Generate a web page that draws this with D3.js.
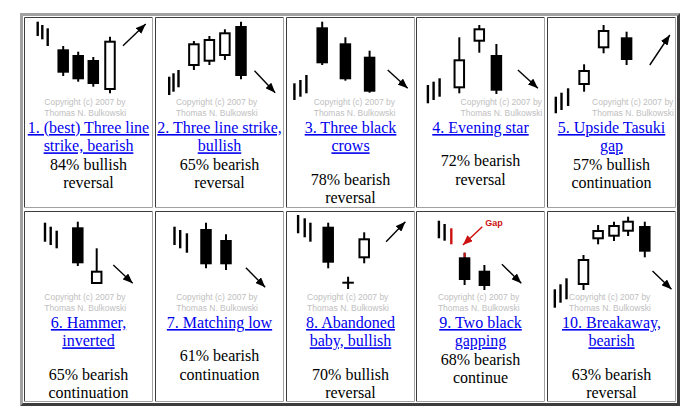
<!DOCTYPE html>
<html>
<head>
<meta charset="utf-8">
<script src="https://cdn.jsdelivr.net/npm/d3@7"></script>
<style>
  body { margin: 0; background: #fff; }
  .serif { font-family: "Liberation Serif", "DejaVu Serif", serif; }
  .sans { font-family: "Liberation Sans", Arial, sans-serif; }
</style>
</head>
<body>
<svg id="chart" width="697" height="419"></svg>
<script>
// pattern text
const titles = [
  ["1. (best) Three line", "strike, bearish"],
  ["2. Three line strike,", "bullish"],
  ["3. Three black", "crows"],
  ["4. Evening star"],
  ["5. Upside Tasuki", "gap"],
  ["6. Hammer,", "inverted"],
  ["7. Matching low"],
  ["8. Abandoned", "baby, bullish"],
  ["9. Two black", "gapping"],
  ["10. Breakaway,", "bearish"]
];
const percents = [84, 65, 78, 72, 57, 65, 61, 70, 68, 63];
const outlook = ["bullish", "bearish", "bearish", "bearish", "bullish",
                 "bearish", "bearish", "bullish", "bearish", "bearish"];
const kind = ["reversal", "reversal", "reversal", "reversal", "continuation",
              "continuation", "continuation", "reversal", "continue", "reversal"];
const paragraphBreak = [false, false, true, true, false, true, true, true, false, true];
const credit = ["Copyright (c) 2007 by", "Thomas N. Bulkowski"];

// prior trend ticks: [t, high, low]
const trends = [
  [[13.7, 94.3, 80], [18.3, 91, 76.7], [23.7, 87.7, 70]],
  [[14.2, 39.3, 21], [18.5, 42.7, 24.3], [23.5, 46, 28.7]],
  [[8.4, 32.7, 16], [14.4, 36, 19.3], [20.4, 41, 22.7]],
  [[11.9, 31, 12.7], [17.6, 34.3, 16], [23.6, 37.7, 19.3]],
  [[8.8, 19.3, 2.7], [14.5, 23.3, 6], [21.1, 27.7, 10]],
  [[21, 88.3, 69.3], [26.7, 84.3, 66], [32.7, 80.3, 62.7]],
  [[19.5, 84.3, 66], [25.2, 81, 62.7], [31.9, 77.7, 58.3]],
  [[12.1, 96, 77.7], [18.7, 92.7, 73.7], [24.4, 88.3, 69.3]],
  [[22.9, 90.3, 72.7], [28.6, 87, 70.3], [35.3, 82.7, 66.7]],
  [[7.8, 21.7, 3.3], [13.5, 26.7, 8.3], [19.5, 32.7, 11.7]]
];

// candles: [t, open, high, low, close]
const candles = [
  [[39.2, 66.7, 70, 40, 43.3], [54.2, 61, 64.3, 34.3, 36.7], [69.3, 56, 59, 29.3, 32], [86, 26, 79.3, 22.7, 75.3]],
  [[38.9, 50, 75, 46, 72.7], [54.4, 54.3, 80, 51, 77], [69.9, 60, 86.7, 56, 83.7], [86, 90, 94.3, 36.7, 40]],
  [[36.2, 88.7, 94.3, 51, 52.7], [59.4, 72.7, 78.7, 35.3, 36.7], [83.6, 59.3, 65.3, 23.3, 24.3]],
  [[43.3, 27.7, 78.7, 22.7, 56.7], [63.3, 74.3, 91, 63.3, 87.7], [80.4, 61, 72, 22, 25.3]],
  [[37.1, 31, 51.7, 24.3, 46], [56.6, 67.7, 91, 62.7, 86], [79.6, 78.7, 84.3, 51, 56]],
  [[53.8, 83.7, 89.3, 45, 47.7], [72.7, 27, 62.7, 27, 40.3]],
  [[51, 82, 88.3, 42.7, 46.7], [71, 71, 76.7, 41, 46.7]],
  [[42.2, 84.3, 88.3, 42.7, 48.3], [62.1, 28.3, 34.3, 22, 28.3], [78.2, 52.7, 78.7, 47.7, 72.7]],
  [[48.6, 53.7, 58.3, 26, 31], [68.4, 40.3, 46, 21, 25]],
  [[36.5, 26, 56, 21, 52], [51.1, 71.7, 86, 66.7, 81], [67, 74.3, 89.3, 70, 86], [81.1, 79.3, 94.3, 75, 90.3], [97.8, 85, 89.3, 53.7, 59.3]]
];

// expected move: [t0, p0, t1, p1]
const arrows = [
  [99, 70.3, 121.7, 92],
  [99.5, 45.3, 120.2, 23.3],
  [101.7, 46, 121.7, 27.7],
  [101.9, 46, 121.9, 27.7],
  [102.8, 51, 122.8, 81],
  [89.3, 46, 108.7, 27.7],
  [90.9, 43.3, 110.2, 23.7],
  [100.1, 69.3, 119.4, 89.3],
  [85.9, 46.7, 105.3, 27.7],
  [105.5, 40, 124.5, 21.7]
];

// gap note on pattern 9
const gapNote = { pattern: 8, label: "Gap", trend: 2, candle: 0,
                  from: [66.3, 84.3], to: [46.9, 66], text: [77.9, 87.7] };

// layout
const colLeft = i => Math.round(24 + i * 130.75);
const cellW = 129, cellH = 191;
const rowTop = [17, 211];
const imgTop = [16, 211];
const creditX = [20.3, 20.9, 27.7, 44.6, 45.1, 20.3, 21.2, 21.1, 21.9, 22.1];
const lineH = 18.3;
const light = "#a2a2a2", dark = "#3c3c3c", red = "#cc1111";

const svg = d3.select("#chart");

const defs = svg.append("defs");
[["head", "#000"], ["headRed", red]].forEach(([id, col]) => {
  defs.append("marker")
    .attr("id", id)
    .attr("markerUnits", "userSpaceOnUse")
    .attr("markerWidth", 10).attr("markerHeight", 8)
    .attr("refX", 10).attr("refY", 4)
    .attr("orient", "auto")
    .append("path").attr("d", "M0,0L10,4L0,8z").attr("fill", col);
});

// outer table border (outset)
const L = 20, T = 13, R = 680, B = 406, bw = 3;
svg.append("path").attr("fill", light)
  .attr("d", `M${L},${T}H${R}L${R-bw},${T+bw}H${L+bw}V${B-bw}L${L},${B}Z`);
svg.append("path").attr("fill", dark)
  .attr("d", `M${R},${T}V${B}H${L}L${L+bw},${B-bw}H${R-bw}V${T+bw}Z`);

titles.forEach((title, p) => {
  const col = p % 5, row = Math.floor(p / 5);
  const x0 = colLeft(col), y0 = rowTop[row];
  const g = svg.append("g");

  // cell border (inset)
  g.append("path").attr("stroke", dark).attr("fill", "none")
    .attr("d", `M${x0+0.5},${y0+cellH}V${y0+0.5}H${x0+cellW}`);
  g.append("path").attr("stroke", light).attr("fill", "none")
    .attr("d", `M${x0+cellW-0.5},${y0}V${y0+cellH-0.5}H${x0}`);

  const x = d3.scaleLinear().domain([0, 130]).range([x0, x0 + 130]);
  const y = d3.scaleLinear().domain([0, 100]).range([imgTop[row] + 100, imgTop[row]]);

  // trend ticks
  g.selectAll(".trend").data(trends[p]).join("line")
    .attr("x1", d => x(d[0])).attr("x2", d => x(d[0]))
    .attr("y1", d => y(d[1])).attr("y2", d => y(d[2]))
    .attr("stroke", (d, i) => (p === gapNote.pattern && i === gapNote.trend) ? red : "#000")
    .attr("stroke-width", 2.4);

  // candles
  const bodyW = 11.5;
  candles[p].forEach(([t, o, h, l, c], i) => {
    const cx = x(t);
    g.append("line").attr("x1", cx).attr("x2", cx)
      .attr("y1", y(h)).attr("y2", y(l))
      .attr("stroke", "#000").attr("stroke-width", 2);
    if (p === gapNote.pattern && i === gapNote.candle) {
      g.append("line").attr("x1", cx).attr("x2", cx)
        .attr("y1", y(h)).attr("y2", y(Math.max(o, c)))
        .attr("stroke", red).attr("stroke-width", 2);
    }
    if (o === c) {
      g.append("line").attr("x1", cx - bodyW / 2).attr("x2", cx + bodyW / 2)
        .attr("y1", y(o)).attr("y2", y(o))
        .attr("stroke", "#000").attr("stroke-width", 2);
    } else if (c < o) {
      g.append("rect").attr("x", cx - bodyW / 2).attr("width", bodyW)
        .attr("y", y(o)).attr("height", y(c) - y(o)).attr("fill", "#000");
    } else {
      g.append("rect").attr("x", cx - bodyW / 2 + 1).attr("width", bodyW - 2)
        .attr("y", y(c) + 1).attr("height", y(o) - y(c) - 2)
        .attr("fill", "#fff").attr("stroke", "#000").attr("stroke-width", 2);
    }
  });

  // outlook arrow
  const a = arrows[p];
  g.append("line")
    .attr("x1", x(a[0])).attr("y1", y(a[1]))
    .attr("x2", x(a[2])).attr("y2", y(a[3]))
    .attr("stroke", "#000").attr("stroke-width", 1.4)
    .attr("marker-end", "url(#head)");

  if (p === gapNote.pattern) {
    g.append("line")
      .attr("x1", x(gapNote.from[0])).attr("y1", y(gapNote.from[1]))
      .attr("x2", x(gapNote.to[0])).attr("y2", y(gapNote.to[1]))
      .attr("stroke", red).attr("stroke-width", 1.4)
      .attr("marker-end", "url(#headRed)");
    g.append("text").attr("class", "sans")
      .attr("x", x(gapNote.text[0])).attr("y", y(gapNote.text[1]) + 3)
      .attr("text-anchor", "middle")
      .attr("font-size", 9).attr("font-weight", "bold")
      .attr("fill", red).text(gapNote.label);
  }

  // copyright
  g.selectAll(".credit").data(credit).join("text")
    .attr("class", "sans")
    .attr("x", x0 + creditX[p])
    .attr("y", (d, i) => imgTop[row] + 89.3 + i * 10.5)
    .attr("font-size", 8.5)
    .attr("fill", "#c0c0c0")
    .text(d => d);

  // title + stats
  const cx = x0 + cellW / 2;
  const base = imgTop[row] + 117;
  g.selectAll(".title").data(title).join("text")
    .attr("class", "serif")
    .attr("x", cx).attr("y", (d, i) => base + i * lineH)
    .attr("text-anchor", "middle")
    .attr("font-size", 16).attr("fill", "#0000ee")
    .style("text-decoration", "underline")
    .text(d => d);
  const statTop = base + title.length * lineH + (paragraphBreak[p] ? 15 : 0);
  g.selectAll(".stat").data([percents[p] + "% " + outlook[p], kind[p]]).join("text")
    .attr("class", "serif")
    .attr("x", cx).attr("y", (d, i) => statTop + i * lineH)
    .attr("text-anchor", "middle")
    .attr("font-size", 16).attr("fill", "#000")
    .text(d => d);
});
</script>
</body>
</html>
